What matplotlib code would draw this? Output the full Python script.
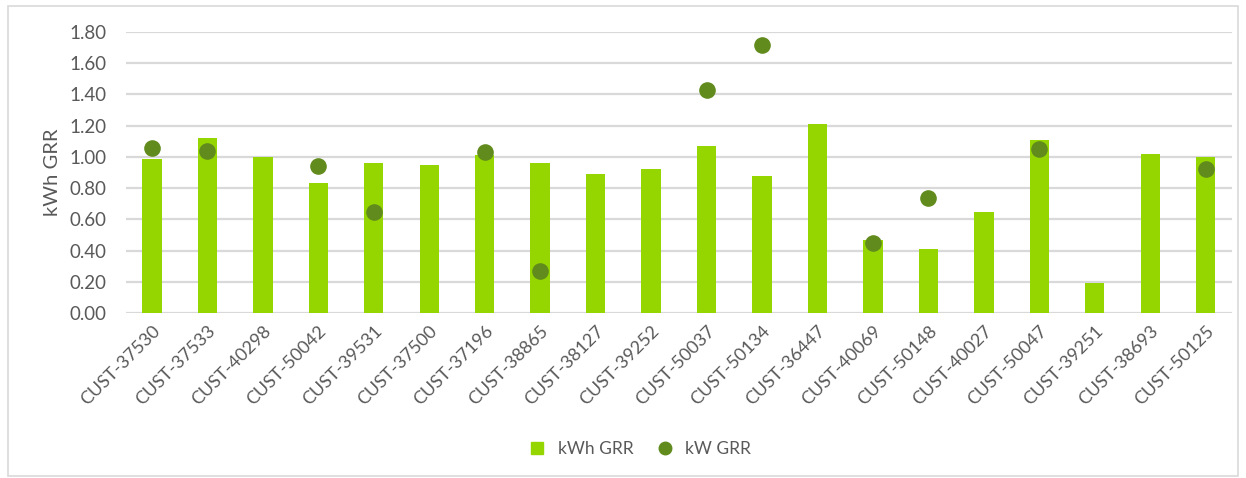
import numpy as np
import matplotlib
matplotlib.use("Agg")
import matplotlib.pyplot as plt
from matplotlib.patches import Rectangle
from matplotlib.lines import Line2D

# Chart data
customers = ["CUST-37530", "CUST-37533", "CUST-40298", "CUST-50042", "CUST-39531",
             "CUST-37500", "CUST-37196", "CUST-38865", "CUST-38127", "CUST-39252",
             "CUST-50037", "CUST-50134", "CUST-36447", "CUST-40069", "CUST-50148",
             "CUST-40027", "CUST-50047", "CUST-39251", "CUST-38693", "CUST-50125"]
kwh_grr = [0.99, 1.12, 1.00, 0.83, 0.96, 0.95, 1.01, 0.96, 0.89, 0.92,
           1.07, 0.88, 1.21, 0.47, 0.41, 0.65, 1.11, 0.19, 1.02, 1.00]
kw_grr = [1.06, 1.04, np.nan, 0.94, 0.65, np.nan, 1.03, 0.27, np.nan, np.nan,
          1.43, 1.72, np.nan, 0.45, 0.74, np.nan, 1.05, np.nan, np.nan, 0.92]
yticks = [0.0, 0.2, 0.4, 0.6, 0.8, 1.0, 1.2, 1.4, 1.6, 1.8]

bar_color = "#95D600"
dot_color = "#618B1C"
text_color = "#595959"
grid_color = "#D9D9D9"

plt.rcParams["font.family"] = ["Lato", "DejaVu Sans"]

fig = plt.figure(figsize=(12.46, 4.78), dpi=100)
ax = fig.add_axes([0.101, 0.345, 0.888, 0.588])

x = np.arange(len(customers))
ax.bar(x, kwh_grr, width=0.35, color=bar_color, zorder=2)
ax.scatter(x, kw_grr, s=120, color=dot_color, zorder=3, clip_on=False)

ax.set_xlim(-0.47, len(customers) - 0.52)
ax.set_ylim(0, 1.8)
ax.set_yticks(yticks)
ax.set_yticklabels([f"{v:.2f}" for v in yticks])
ax.set_xticks(x)
ax.set_xticklabels(customers, rotation=45, ha="right", rotation_mode="anchor")

ax.grid(axis="y", color=grid_color, linewidth=1.6, zorder=0)
ax.set_axisbelow(True)
for s in ax.spines.values():
    s.set_visible(False)
ax.tick_params(axis="both", length=0, colors=text_color)
ax.tick_params(axis="x", pad=7, labelsize=13)
ax.tick_params(axis="y", pad=14, labelsize=13.5)
ax.set_ylabel("kWh GRR", color=text_color, fontsize=14.5, labelpad=6)

handles = [Line2D([], [], marker="s", linestyle="none", color=bar_color, markersize=9),
           Line2D([], [], marker="o", linestyle="none", color=dot_color, markersize=9)]
fig.legend(handles, ["kWh GRR", "kW GRR"], loc="center", bbox_to_anchor=(0.51, 0.06),
           ncol=2, frameon=False, fontsize=12.5, handletextpad=0.2, columnspacing=0.8,
           labelcolor=text_color)

fig.patches.append(Rectangle((8 / 1246, 2 / 478), 1 - 16 / 1246, 1 - 8 / 478,
                             transform=fig.transFigure, fill=False,
                             edgecolor=grid_color, linewidth=1.2))

fig.savefig("out.png", dpi=100)
